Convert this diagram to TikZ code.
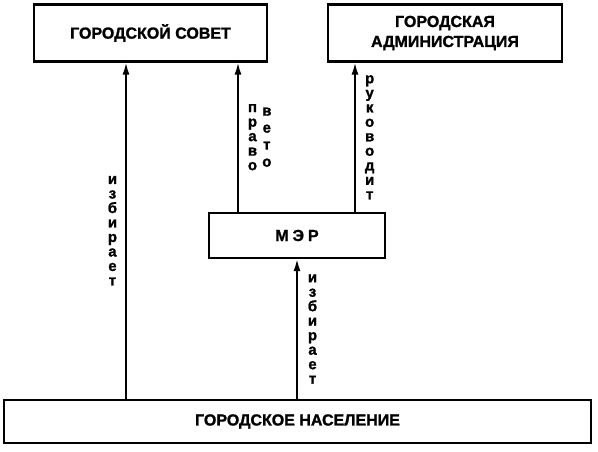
\documentclass[tikz,border=0pt]{standalone}
\usepackage{fontspec}
\setmainfont{Liberation Sans}
\newfontfamily\heavyfont[BoldFeatures={FakeBold=1.3}]{Liberation Sans}
\usepackage{tikz}
\usetikzlibrary{positioning, arrows.meta}

\begin{document}
\begin{tikzpicture}[x=1pt, y=1pt]
    % Styles
    \tikzstyle{block} = [rectangle, draw, line width=2.2pt, align=center, font=\heavyfont\bfseries\fontsize{16}{20}\selectfont]
    \tikzstyle{line} = [draw, line width=1.8pt, -{Latex[length=12pt, width=7pt]}]
    \tikzstyle{vlabel} = [inner sep=0pt, align=center, font=\heavyfont\bfseries\fontsize{15}{14.5}\selectfont]

    \useasboundingbox (0,0) rectangle (598,451);

    % Nodes
    \node [block, minimum width=233pt, minimum height=57pt] (sovet) at (150.5,418) {ГОРОДСКОЙ СОВЕТ};
    \node [block, minimum width=234pt, minimum height=57pt] (admin) at (445,418) {ГОРОДСКАЯ\\АДМИНИСТРАЦИЯ};
    \node [block, minimum width=176pt, minimum height=45pt] (mayor) at (297,215.5) {М\kern4ptЭ\kern4ptР};
    \node [block, minimum width=587pt, minimum height=43pt] (people) at (297.5,29.5) {ГОРОДСКОЕ НАСЕЛЕНИЕ};

    % Arrow columns
    \coordinate (c1) at (126,0);
    \coordinate (c2) at (238,0);
    \coordinate (c3) at (355,0);
    \coordinate (c4) at (297,0);

    % Paths
    \path [line] (people.north -| c1) -- node [vlabel, left=8pt] {и\\з\\б\\и\\р\\а\\е\\т} (sovet.south -| c1);
    \path [line] (mayor.north -| c2) -- node [vlabel, right=9pt] (pravo) {п\\р\\а\\в\\о} (sovet.south -| c2);
    \node [vlabel, right=4pt of pravo, font=\heavyfont\bfseries\fontsize{15}{17}\selectfont] (veto) {в\\е\\т\\о};
    \path [line] (mayor.north -| c3) -- node [vlabel, right=9pt] {р\\у\\к\\о\\в\\о\\д\\и\\т} (admin.south -| c3);
    \path [line] (people.north -| c4) -- node [vlabel, right=10pt] {и\\з\\б\\и\\р\\а\\е\\т} (mayor.south);
\end{tikzpicture}
\end{document}
